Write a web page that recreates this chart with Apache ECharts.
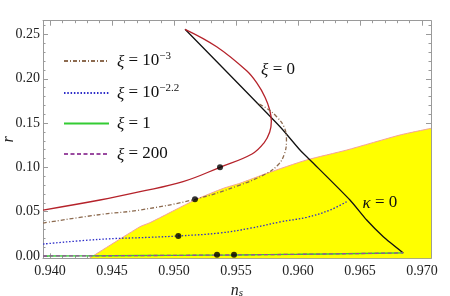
<!DOCTYPE html>
<html>
<head>
<meta charset="utf-8">
<script src="https://cdn.jsdelivr.net/npm/echarts@6/dist/echarts.min.js"></script>
<style>html,body{margin:0;padding:0;background:#fff}#c{width:450px;height:296px}</style>
</head>
<body>
<div id="c"></div>
<script>
// ---- data ----
const xTicks = [0.940, 0.945, 0.950, 0.955, 0.960, 0.965, 0.970];
const yTicks = [0.00, 0.05, 0.10, 0.15, 0.20, 0.25];

// xi = 0 (red)
const xi0X = [0.93944,0.94403,0.94726,0.95073,0.95371,0.95629,0.95725,0.95772,0.95785,0.95772,0.95735,0.95669,0.95586,0.95344,0.95089];
const xi0R = [0.0519,0.0632,0.0726,0.0839,0.1001,0.1151,0.1275,0.1400,0.1520,0.1648,0.1790,0.1950,0.2090,0.2362,0.2559];
// kappa = 0 (black)
const kapX = [0.95089,0.95855,0.96016,0.96097,0.96419,0.96554,0.96688,0.96849];
const kapR = [0.2559,0.1459,0.1196,0.1084,0.0632,0.0406,0.0218,0.0035];
// xi = 10^-3 (brown)
const xi3X = [0.93944,0.94403,0.94726,0.95169,0.95532,0.95748,0.95840,0.95890,0.95907,0.95890,0.95828,0.95748,0.95669];
const xi3R = [0.0372,0.0468,0.0519,0.0640,0.0801,0.0933,0.1030,0.1150,0.1300,0.1450,0.1572,0.1667,0.1727];
// xi = 10^-2.2 (blue)
const xi22X = [0.93944,0.94403,0.94806,0.95035,0.95371,0.95613,0.95855,0.96070,0.96258,0.96403];
const xi22R = [0.0135,0.0188,0.0211,0.0226,0.0260,0.0313,0.0384,0.0437,0.0519,0.0621];
// xi = 1 (green) and xi = 200 (purple)
const xi1X = [0.93944,0.945,0.950,0.955,0.960,0.965,0.96849];
const xi1R = [0.0000,0.0003,0.0007,0.0012,0.0019,0.0028,0.0035];
const xi200X = [0.93944,0.945,0.950,0.955,0.960,0.965,0.96849];
const xi200R = [0.0000,0.0003,0.0007,0.0012,0.0019,0.0028,0.0035];
// allowed region (yellow) upper edge
const regX = [0.94317,0.94726,0.94806,0.95169,0.95398,0.95532,0.95748,0.96070,0.96393,0.96823,0.97073];
const regR = [-0.0026,0.0331,0.0376,0.0632,0.0764,0.0821,0.0933,0.1084,0.1196,0.1366,0.1441];
// marked points
const dotX = [0.95371,0.95169,0.95035,0.95347,0.95484];
const dotR = [0.1001,0.0640,0.0226,0.0013,0.0013];

const legendNames = ['xi=1e-3','xi=1e-2.2','xi=1','xi=200'];
const legendText = {
  'xi=1e-3': '{i|ξ} = 10{sup|−3}',
  'xi=1e-2.2': '{i|ξ} = 10{sup|−2.2}',
  'xi=1': '{i|ξ} = 1',
  'xi=200': '{i|ξ} = 200'
};

// ---- build ----
const zip = (a, b) => a.map((v, i) => [v, b[i]]);
const xMinor = [], yMinor = [];
for (let i = 0; i <= 30; i++) if (i % 5) xMinor.push(+(0.940 + i * 0.001).toFixed(4));
for (let i = 0; i <= 26; i++) if (i % 5) yMinor.push(+(i * 0.01).toFixed(3));

const XMIN = 0.939435, XMAX = 0.970726, YMIN = -0.0026, YMAX = 0.2656;
const FONT = 'Liberation Serif';
const frame = '#9a9a9a';

function xAx(pos, ticks, len, showLine, labels) {
  return {
    type: 'value', position: pos, min: XMIN, max: XMAX, scale: true,
    axisLine: { show: showLine, onZero: false, lineStyle: { color: frame, width: 1 } },
    axisTick: { show: true, inside: true, length: len, customValues: ticks, lineStyle: { color: frame } },
    axisLabel: labels ? { show: true, customValues: ticks, formatter: v => v.toFixed(3), fontFamily: FONT, fontSize: 14, color: '#222', margin: 6 } : { show: false },
    splitLine: { show: false }
  };
}
function yAx(pos, ticks, len, showLine, labels) {
  return {
    type: 'value', position: pos, min: YMIN, max: YMAX, scale: true,
    axisLine: { show: showLine, onZero: false, lineStyle: { color: frame, width: 1 } },
    axisTick: { show: true, inside: true, length: len, customValues: ticks, lineStyle: { color: frame } },
    axisLabel: labels ? { show: true, customValues: ticks, formatter: v => v.toFixed(2), fontFamily: FONT, fontSize: 14, color: '#222', margin: 3 } : { show: false },
    splitLine: { show: false }
  };
}

const xAxes = [xAx('bottom', xTicks, 5, true, true), xAx('bottom', xMinor, 2.5, false, false), xAx('top', xTicks, 5, true, false), xAx('top', xMinor, 2.5, false, false)];
xAxes[0].name = '{i|n}{sub|s}';
xAxes[0].nameLocation = 'middle';
xAxes[0].nameGap = 24;
xAxes[0].nameMoveOverlap = false;
xAxes[0].nameTextStyle = { rich: {
  i: { fontFamily: FONT, fontStyle: 'italic', fontSize: 16, color: '#222', verticalAlign: 'top', lineHeight: 16 },
  sub: { fontFamily: FONT, fontStyle: 'italic', fontSize: 11, color: '#222', verticalAlign: 'bottom', lineHeight: 11, padding: [0, 0, 0, 0] } } };
const yAxes = [yAx('left', yTicks, 5, true, true), yAx('left', yMinor, 2.5, false, false), yAx('right', yTicks, 5, true, false), yAx('right', yMinor, 2.5, false, false)];
yAxes[0].name = 'r';
yAxes[0].nameLocation = 'middle';
yAxes[0].nameGap = 26;
yAxes[0].nameMoveOverlap = false;
yAxes[0].nameTextStyle = { fontFamily: FONT, fontStyle: 'italic', fontSize: 16, color: '#222' };

const rich = {
  i: { fontFamily: FONT, fontStyle: 'italic', fontSize: 17, color: '#111', verticalAlign: 'bottom', lineHeight: 20 },
  sup: { fontFamily: FONT, fontSize: 11, color: '#111', verticalAlign: 'top', lineHeight: 12 }
};

const chart = echarts.init(document.getElementById('c'), null, { renderer: 'canvas' });
chart.setOption({
  animation: false,
  grid: { left: 43, right: 19, top: 20.7, bottom: 37.7, containLabel: false, outerBoundsMode: 'none' },
  xAxis: xAxes,
  yAxis: yAxes,
  legend: {
    data: legendNames, orient: 'vertical', left: 58, top: 46, itemWidth: 45, itemHeight: 14, itemGap: 12,
    formatter: n => legendText[n],
    itemStyle: { opacity: 0 },
    textStyle: { fontFamily: FONT, fontSize: 17, color: '#111', padding: [0, 0, 0, 3], rich: rich }
  },
  series: [
    { name: 'region', type: 'line', data: zip(regX, regR), symbol: 'none', smooth: 0.2, z: 1,
      lineStyle: { color: '#f4a09a', width: 1 }, areaStyle: { color: '#ffff00', opacity: 1, origin: 'start' } },
    { name: 'kappa=0', type: 'line', data: zip(kapX, kapR), symbol: 'none', smooth: 0.2, z: 3,
      lineStyle: { color: '#111', width: 1.3 },
      markPoint: { symbol: 'circle', symbolSize: 0, silent: true,
        label: { show: true, position: 'inside', fontFamily: FONT, fontSize: 17, color: '#111', rich: rich },
        data: [ { coord: [0.95839, 0.2105], label: { formatter: '{i|ξ} = 0' } },
                { coord: [0.96661, 0.0605], label: { formatter: '{i|κ} = 0' } } ] } },
    { name: 'xi=0', type: 'line', data: zip(xi0X, xi0R), symbol: 'none', smooth: 0.4, z: 4,
      itemStyle: { color: '#b5222a' }, lineStyle: { color: '#b5222a', width: 1.3 } },
    { name: 'xi=1e-3', type: 'line', data: zip(xi3X, xi3R), symbol: 'none', smooth: 0.4, z: 4,
      itemStyle: { color: '#8c6a4f' }, lineStyle: { color: '#8c6a4f', width: 1.3, type: [4, 2, 1, 2] } },
    { name: 'xi=1e-2.2', type: 'line', data: zip(xi22X, xi22R), symbol: 'none', smooth: 0.4, z: 4,
      itemStyle: { color: '#2c2cc8' }, lineStyle: { color: '#2c2cc8', width: 1.3, type: [1.5, 1.8] } },
    { name: 'xi=1', type: 'line', data: zip(xi1X, xi1R), symbol: 'none', smooth: 0.3, z: 4,
      itemStyle: { color: '#33cc33' }, lineStyle: { color: '#33cc33', width: 1.4 } },
    { name: 'xi=200', type: 'line', data: zip(xi200X, xi200R), symbol: 'none', smooth: 0.3, z: 5,
      itemStyle: { color: '#9a4aa0' }, lineStyle: { color: '#9a4aa0', width: 1.3, type: [4, 2.5] } },
    { name: 'points', type: 'scatter', data: zip(dotX, dotR), symbol: 'circle', symbolSize: 6, z: 6,
      itemStyle: { color: '#000' } }
  ]
});
</script>
</body>
</html>
